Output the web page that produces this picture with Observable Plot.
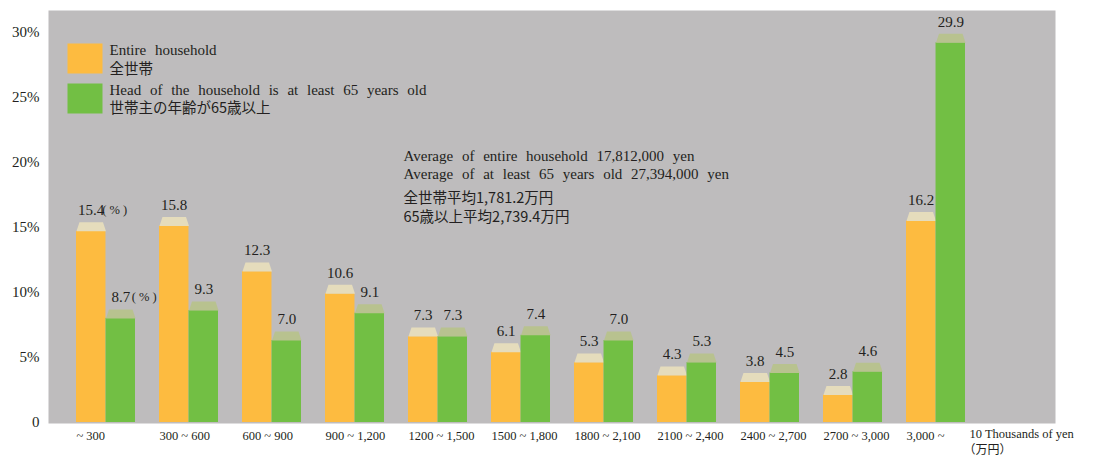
<!DOCTYPE html>
<html>
<head>
<meta charset="utf-8">
<script src="https://cdn.jsdelivr.net/npm/d3@7"></script>
<script src="https://cdn.jsdelivr.net/npm/@observablehq/plot@0.6"></script>
<style>
  body { margin: 0; background: #fff; }
  #chart svg { display: block; }
  #chart svg text { font-family: "Liberation Serif", "Times New Roman", serif; }
  #chart svg .ja text { font-family: "Noto Sans CJK JP", sans-serif; }
  #chart svg .wide text { word-spacing: 5px; }
</style>
</head>
<body>
<div id="chart"></div>
<script>
// Savings brackets (10 thousand yen) and share of households in each bracket (%)
const categories = ["~ 300", "300 ~ 600", "600 ~ 900", "900 ~ 1,200", "1200 ~ 1,500", "1500 ~ 1,800",
  "1800 ~ 2,100", "2100 ~ 2,400", "2400 ~ 2,700", "2700 ~ 3,000", "3,000 ~"];
const entireHousehold = [15.4, 15.8, 12.3, 10.6, 7.3, 6.1, 5.3, 4.3, 3.8, 2.8, 16.2];
const seniorHousehold = [8.7, 9.3, 7.0, 9.1, 7.3, 7.4, 7.0, 5.3, 4.5, 4.6, 29.9];

const yTicks = [0, 5, 10, 15, 20, 25, 30];
const yTickLabels = ["0", "5%", "10%", "15%", "20%", "25%", "30%"];

const legendLabelsEn = ["Entire household", "Head of the household is at least 65 years old"];
const legendLabelsJa = ["全世帯", "世帯主の年齢が65歳以上"];
const averageNotesEn = ["Average of entire household 17,812,000 yen", "Average of at least 65 years old 27,394,000 yen"];
const averageNotesJa = ["全世帯平均1,781.2万円", "65歳以上平均2,739.4万円"];
const unitLabelEn = "10 Thousands of yen";
const unitLabelJa = "（万円）";
const percentSuffix = "( % )";

// Layout
const W = 1093, H = 457;
const M = {top: 10, right: 38, bottom: 34, left: 48};
const xRange = [62.9, 978.1];
const padInner = 0.29, padOuter = 0.145;
const step = (xRange[1] - xRange[0]) / (categories.length - padInner + 2 * padOuter);
const bw = step * (1 - padInner);
const half = bw / 2, quarter = bw / 4;
const CAP = 9, SLANT = 3;

const ink = "#231f20";

// Bevelled cap drawn on top of each bar (top edge at the value, 9px tall)
const capShape = {
  draw(ctx) {
    ctx.moveTo(-quarter, CAP);
    ctx.lineTo(quarter, CAP);
    ctx.lineTo(quarter - SLANT, 0);
    ctx.lineTo(-quarter + SLANT, 0);
    ctx.closePath();
  }
};
const swatch = { draw(ctx) { ctx.rect(-17.5, -15, 35, 30); } };

const series = [
  {values: entireHousehold, fill: "#fdbb40", cap: "#e5dcbc", side: -1},
  {values: seniorHousehold, fill: "#72bf44", cap: "#b8c28f", side: 1}
];
const fmt = d3.format(".1f");

const marks = [Plot.frame({fill: "#bebcbd", stroke: "none"})];

series.forEach((s) => {
  const rows = categories.map((c, i) => ({category: c, value: s.values[i]}));
  marks.push(
    Plot.barY(rows, {
      x: "category", y: "value", fill: s.fill,
      insetLeft: s.side > 0 ? half : 0,
      insetRight: s.side < 0 ? half : 0,
      insetTop: CAP
    }),
    Plot.dot(rows, {
      x: "category", y: "value", symbol: capShape, r: 5,
      fill: s.cap, stroke: "none", dx: s.side * quarter
    }),
    Plot.text(rows, {
      x: "category", y: "value", text: (d) => fmt(d.value),
      dx: s.side * quarter, dy: -12, fontSize: 15, fill: ink
    }),
    Plot.text(rows.slice(0, 1), {
      x: "category", y: "value", text: () => percentSuffix,
      dx: s.side * quarter + 11, dy: -12, textAnchor: "start",
      fontSize: 12.5, fill: ink
    })
  );
});

// Legend inside the plotting area
series.forEach((s, i) => {
  marks.push(
    Plot.dot([0], {frameAnchor: "top-left", symbol: swatch, r: 5, fill: s.fill, stroke: "none", dx: 36.5, dy: 48 + 40 * i}),
    Plot.text([legendLabelsEn[i]], {
      frameAnchor: "top-left", text: (d) => d, textAnchor: "start", lineAnchor: "middle",
      dx: 61, dy: 39.3 + 40.4 * i, fontSize: 15, fill: ink, className: "wide"
    }),
    Plot.text([legendLabelsJa[i]], {
      frameAnchor: "top-left", text: (d) => d, textAnchor: "start", lineAnchor: "middle",
      dx: 61, dy: 59 + 39 * i, fontSize: 14.5, fill: ink, className: "ja"
    })
  );
});

// Average savings notes
const noteEnDy = [146, 163.5];
const noteJaDy = [187.5, 206.6];
averageNotesEn.forEach((t, i) => marks.push(
  Plot.text([t], {frameAnchor: "top-left", text: (d) => d, textAnchor: "start", lineAnchor: "middle",
    dx: 355, dy: noteEnDy[i], fontSize: 15, fill: ink, className: "wide"})
));
averageNotesJa.forEach((t, i) => marks.push(
  Plot.text([t], {frameAnchor: "top-left", text: (d) => d, textAnchor: "start", lineAnchor: "middle",
    dx: 355, dy: noteJaDy[i], fontSize: 14.5, fill: ink, className: "ja"})
));

// Unit label at the end of the category axis
marks.push(
  Plot.text([unitLabelEn], {frameAnchor: "bottom-right", text: (d) => d, textAnchor: "start", lineAnchor: "top",
    dx: -86, dy: 6, fontSize: 12.5, fill: ink}),
  Plot.text([unitLabelJa], {frameAnchor: "bottom-right", text: (d) => d, textAnchor: "start", lineAnchor: "middle",
    dx: -92, dy: 26.5, fontSize: 12, fill: ink, className: "ja"})
);

// Axes
marks.push(
  Plot.axisX({tickSize: 0, tickPadding: 8, textAnchor: "start", dx: -half, fontSize: 12.5,
    fill: ink, label: null}),
  Plot.axisY({ticks: yTicks, tickFormat: (d) => yTickLabels[yTicks.indexOf(d)], tickSize: 0,
    tickPadding: 9, fontSize: 15, fill: ink, label: null})
);

const chart = Plot.plot({
  width: W, height: H,
  marginTop: M.top, marginRight: M.right, marginBottom: M.bottom, marginLeft: M.left,
  style: {background: "#fff", color: ink, overflow: "visible"},
  x: {type: "band", domain: categories, range: xRange, paddingInner: padInner, paddingOuter: padOuter},
  y: {domain: [0, 30], range: [422, 32]},
  marks
});
document.getElementById("chart").append(chart);
</script>
</body>
</html>
